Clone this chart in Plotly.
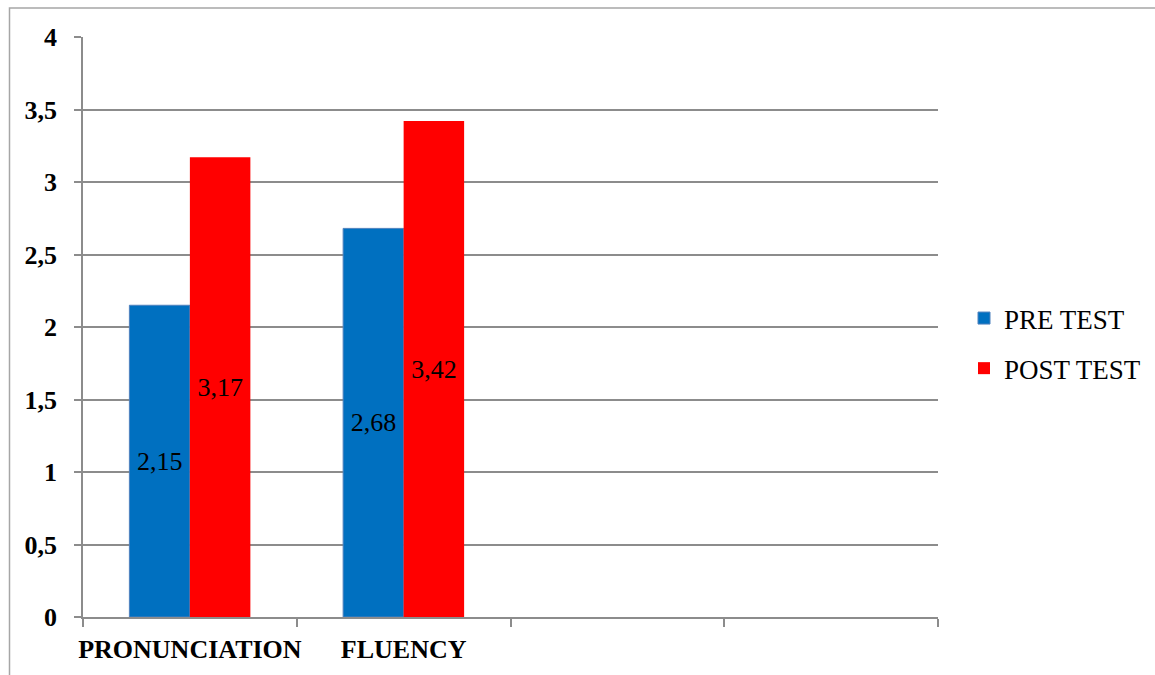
import plotly.graph_objects as go

# Skill categories (the last two slots are empty on the axis)
categories = ["PRONUNCIATION", "FLUENCY", " ", "  "]
pre_test = [2.15, 2.68, None, None]
post_test = [3.17, 3.42, None, None]
y_ticks = [0, 0.5, 1, 1.5, 2, 2.5, 3, 3.5, 4]

W, H = 1155, 675
L, R, T, B = 83, 217, 37, 58
PW, PH = W - L - R, H - T - B

SERIF = "Liberation Serif, Times New Roman, serif"
GRID = "#8c8c8c"

fig = go.Figure()
fig.add_trace(go.Bar(
    name="PRE TEST", x=categories, y=pre_test,
    marker=dict(color="#0070C0", line=dict(color="#4F81BD", width=1)),
    texttemplate="%{y:.2f}", textposition="inside", insidetextanchor="middle",
    constraintext="none", textangle=0,
    textfont=dict(family=SERIF, size=26, color="#000000"),
    legendgroup="a",
))
fig.add_trace(go.Bar(
    name="POST TEST", x=categories, y=post_test,
    marker=dict(color="#FF0000", line=dict(color="#FF0000", width=0)),
    texttemplate="%{y:.2f}", textposition="inside", insidetextanchor="middle",
    constraintext="none", textangle=0,
    textfont=dict(family=SERIF, size=26, color="#000000"),
    legendgroup="b",
))

# Outer frame around the chart (top and left edges visible)
fx = (9.5 - L) / PW
fy = (PH + T - 8) / PH
fig.add_shape(type="path", xref="paper", yref="paper",
              path=f"M {fx},{-0.2} L {fx},{fy} L 1.5,{fy}",
              line=dict(color="#a6a6a6", width=1.5))

fig.update_layout(
    width=W, height=H,
    margin=dict(l=L, r=R, t=T, b=B, autoexpand=False),
    paper_bgcolor="white", plot_bgcolor="white",
    separators=",.",
    barmode="group", bargap=0.434, bargroupgap=0,
    font=dict(family=SERIF, color="#000000"),
    showlegend=True,
    legend=dict(
        x=(964 - L) / PW, xanchor="left",
        y=(H - B - 343.5) / PH, yanchor="middle",
        font=dict(family=SERIF, size=27, color="#000000"),
        tracegroupgap=12, traceorder="grouped",
        itemwidth=30, bgcolor="rgba(0,0,0,0)",
    ),
)

fig.update_xaxes(
    type="category", categoryorder="array", categoryarray=categories,
    range=[-0.5, 3.5], automargin=False, tickangle=0,
    showline=True, linecolor=GRID, linewidth=1.5,
    ticks="outside", tickson="boundaries", ticklen=8, tickcolor=GRID, tickwidth=1.5,
    ticklabelstandoff=8,
    tickfont=dict(family=SERIF, size=26, color="#000000", weight="bold"),
    showgrid=False, zeroline=False,
)
fig.update_yaxes(
    range=[0, 4], tickvals=y_ticks, automargin=False,
    ticktext=[f"{v:g}".replace(".", ",") for v in y_ticks],
    showline=True, linecolor=GRID, linewidth=1.5,
    ticks="outside", ticklen=7, tickcolor=GRID, tickwidth=1.5,
    ticklabelstandoff=12,
    tickfont=dict(family=SERIF, size=26, color="#000000", weight="bold"),
    showgrid=True, gridcolor=GRID, gridwidth=1.5,
    zeroline=False,
)

fig.write_html("out.html")
